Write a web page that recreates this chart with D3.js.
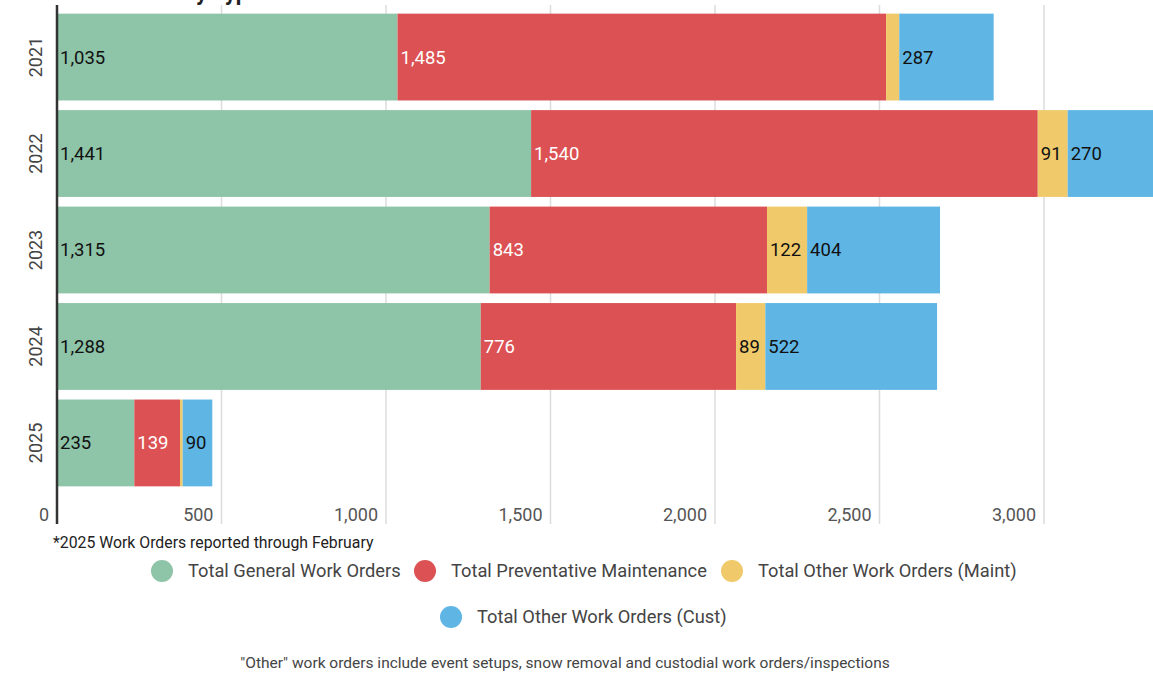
<!DOCTYPE html>
<html><head><meta charset="utf-8">
<script src="https://cdn.jsdelivr.net/npm/d3@7"></script>
<style>body{margin:0;background:#fff;overflow:hidden}svg{display:block;font-family:Roboto,"Noto Sans",sans-serif}</style>
</head><body>
<svg id="c" width="1153" height="674"></svg>
<script>
const years = ["2021","2022","2023","2024","2025"];
const seriesNames = ["Total General Work Orders","Total Preventative Maintenance","Total Other Work Orders (Maint)","Total Other Work Orders (Cust)"];
const generalWO = [1035,1441,1315,1288,235];
const preventative = [1485,1540,843,776,139];
const otherMaint = [40,91,122,89,8];
const otherCust = [287,270,404,522,90];
const showMaintLabel = [false,true,true,true,false];
const xTicks = [0,500,1000,1500,2000,2500,3000];
const colors = ["#8ec4a8","#dc5154","#f0ca6a","#5fb6e5"];
const labelColors = ["#111","#fff","#111","#111"];

const svg = d3.select("#c");
const x = d3.scaleLinear().domain([0,3000]).range([57,1044]);
const y = d3.scaleBand().domain(years).range([4,496]).paddingInner(0.1).paddingOuter(0.1);

// title (mostly cut off above, as in the reference)
svg.append("text").attr("x",55).attr("y",0).attr("font-size",22).attr("font-weight",700).attr("fill","#222").text("Work Orders by Type");

// gridlines
svg.append("g").selectAll("line").data(xTicks.slice(1)).join("line")
  .attr("x1",d=>x(d)).attr("x2",d=>x(d)).attr("y1",5).attr("y2",524)
  .attr("stroke","#dcdcdc").attr("stroke-width",1.5);

const seriesVals = [generalWO,preventative,otherMaint,otherCust];
const rows = years.map((yr,i)=>{const o={year:yr}; seriesNames.forEach((s,j)=>o[s]=seriesVals[j][i]); return o;});
const stack = d3.stack().keys(seriesNames)(rows);

const g = svg.append("g");
stack.forEach((layer,j)=>{
  g.append("g").selectAll("rect").data(layer).join("rect")
    .attr("x",d=>x(d[0])).attr("width",d=>x(d[1])-x(d[0]))
    .attr("y",d=>y(d.data.year)).attr("height",y.bandwidth())
    .attr("fill",colors[j]);
});
stack.forEach((layer,j)=>{
  g.append("g").selectAll("text").data(layer.filter((d,i)=> j!==2 || showMaintLabel[i])).join("text")
    .attr("x",d=>x(d[0])+3).attr("y",d=>y(d.data.year)+y.bandwidth()/2)
    .attr("dy","0.35em").attr("font-size",18.5).attr("fill",labelColors[j])
    .text(d=>d3.format(",")(d[1]-d[0]));
});

// axis line
svg.append("line").attr("x1",57).attr("x2",57).attr("y1",5).attr("y2",524).attr("stroke","#333").attr("stroke-width",2.5);

// tick labels
svg.append("g").selectAll("text").data(xTicks).join("text")
  .attr("x",d=>x(d)-8).attr("y",521).attr("text-anchor","end")
  .attr("font-size",18).attr("fill","#555").text(d=>d3.format(",")(d));

// year labels
svg.append("g").selectAll("text").data(years).join("text")
  .attr("transform",d=>`translate(42,${y(d)+y.bandwidth()/2}) rotate(-90)`)
  .attr("text-anchor","middle").attr("font-size",18).attr("fill","#444").text(d=>d);

svg.append("text").attr("x",53).attr("y",548).attr("font-size",15.8).attr("fill","#222")
  .text("*2025 Work Orders reported through February");

// legend
const legendPos = [[162,571],[425,571],[732,571],[451,617]];
seriesNames.forEach((s,j)=>{
  const [cx,cy]=legendPos[j];
  svg.append("circle").attr("cx",cx).attr("cy",cy).attr("r",11).attr("fill",colors[j]);
  svg.append("text").attr("x",cx+26).attr("y",cy).attr("dy","0.35em").attr("font-size",18.3).attr("fill","#444").text(s);
});

svg.append("text").attr("x",565).attr("y",668).attr("text-anchor","middle").attr("font-size",15.5).attr("fill","#444")
  .text("\"Other\" work orders include event setups, snow removal and custodial work orders/inspections");
</script>
</body></html>
